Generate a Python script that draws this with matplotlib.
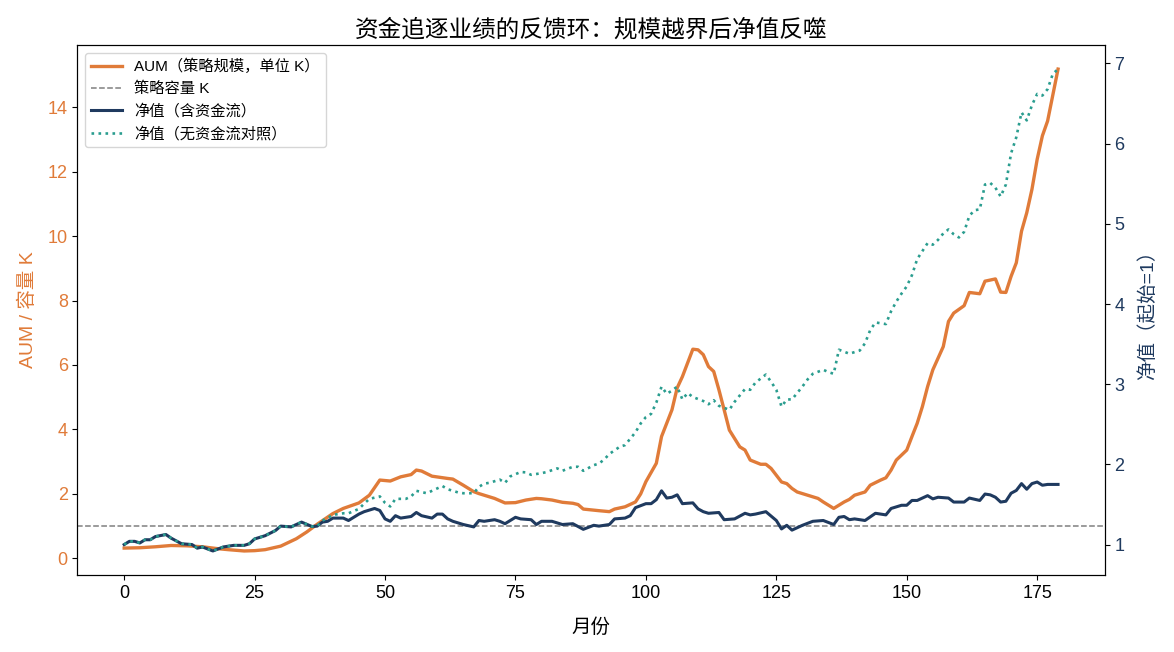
import matplotlib
matplotlib.use("Agg")
import matplotlib.pyplot as plt

plt.rcParams['font.family'] = ['Liberation Sans', 'Noto Sans CJK SC', 'DejaVu Sans']
plt.rcParams['axes.unicode_minus'] = False

# AUM in units of capacity K
aum_month = [0, 3, 6, 9, 12, 15, 18, 20, 23, 25, 27, 30, 33, 35, 37, 40, 42, 45, 47, 49,
             51, 53, 55, 56, 57, 59, 62, 63, 65, 67, 68, 70, 71, 73, 75, 77, 79, 80, 82, 84,
             86, 87, 88, 91, 93, 94, 96, 98, 99, 100, 102, 103, 105, 106, 107, 109, 110, 111,
             112, 113, 114, 115, 116, 118, 119, 120, 122, 123, 124, 126, 127, 128, 129, 131,
             133, 134, 136, 138, 139, 140, 142, 143, 145, 146, 147, 148, 150, 151, 152, 153,
             154, 155, 157, 158, 159, 161, 162, 164, 165, 167, 168, 169, 170, 171, 172, 173,
             174, 175, 176, 177, 179]
aum = [0.32, 0.33, 0.36, 0.40, 0.39, 0.36, 0.30, 0.27, 0.23, 0.24, 0.27, 0.38, 0.61, 0.82,
       1.06, 1.39, 1.55, 1.72, 1.96, 2.43, 2.40, 2.53, 2.60, 2.74, 2.71, 2.55, 2.48, 2.46,
       2.27, 2.07, 2.01, 1.91, 1.86, 1.72, 1.73, 1.81, 1.86, 1.85, 1.81, 1.74, 1.71, 1.67,
       1.53, 1.48, 1.45, 1.53, 1.60, 1.75, 2.00, 2.38, 2.95, 3.78, 4.61, 5.29, 5.64, 6.49,
       6.47, 6.32, 5.95, 5.80, 5.23, 4.61, 3.98, 3.46, 3.36, 3.05, 2.92, 2.92, 2.79, 2.37,
       2.32, 2.17, 2.06, 1.96, 1.86, 1.75, 1.55, 1.75, 1.83, 1.96, 2.06, 2.27, 2.43, 2.50,
       2.74, 3.05, 3.36, 3.78, 4.19, 4.71, 5.33, 5.85, 6.57, 7.35, 7.61, 7.84, 8.25, 8.21,
       8.60, 8.67, 8.26, 8.25, 8.75, 9.17, 10.15, 10.72, 11.45, 12.38, 13.11, 13.57, 15.18]
capacity_k = 1.0

# NAV with fund flows
nav_month = [0, 1, 2, 3, 4, 5, 6, 8, 9, 11, 13, 14, 15, 17, 19, 21, 23, 24, 25, 27, 29, 30,
             32, 34, 36, 37, 38, 39, 40, 42, 43, 45, 46, 48, 49, 50, 51, 52, 53, 55, 56, 57,
             59, 60, 61, 62, 63, 65, 67, 68, 69, 71, 72, 73, 75, 76, 78, 79, 80, 82, 84, 86,
             88, 90, 91, 93, 94, 96, 97, 98, 100, 101, 102, 103, 104, 105, 106, 107, 109, 110,
             111, 112, 114, 115, 117, 119, 120, 121, 123, 125, 126, 127, 128, 130, 132, 134,
             136, 137, 138, 139, 140, 142, 144, 146, 147, 149, 150, 151, 152, 154, 155, 156,
             158, 159, 161, 162, 164, 165, 166, 167, 168, 169, 170, 171, 172, 173, 174, 175,
             176, 177, 179]
nav = [1.00, 1.04, 1.04, 1.02, 1.06, 1.06, 1.10, 1.125, 1.08, 1.01, 1.00, 0.955, 0.97, 0.92,
       0.97, 0.99, 0.99, 1.01, 1.07, 1.11, 1.175, 1.23, 1.22, 1.28, 1.225, 1.23, 1.28, 1.29,
       1.33, 1.33, 1.30, 1.38, 1.41, 1.45, 1.425, 1.32, 1.29, 1.36, 1.33, 1.35, 1.40, 1.36,
       1.33, 1.38, 1.38, 1.32, 1.29, 1.25, 1.22, 1.30, 1.29, 1.31, 1.29, 1.26, 1.34, 1.32,
       1.31, 1.25, 1.29, 1.29, 1.25, 1.26, 1.19, 1.24, 1.23, 1.25, 1.32, 1.33, 1.36, 1.46,
       1.51, 1.51, 1.56, 1.67, 1.58, 1.59, 1.62, 1.51, 1.52, 1.445, 1.41, 1.39, 1.40, 1.31,
       1.32, 1.39, 1.37, 1.38, 1.41, 1.30, 1.195, 1.24, 1.18, 1.24, 1.29, 1.30, 1.25, 1.34,
       1.35, 1.31, 1.32, 1.30, 1.39, 1.37, 1.45, 1.49, 1.49, 1.55, 1.55, 1.61, 1.57, 1.59,
       1.58, 1.53, 1.53, 1.58, 1.55, 1.63, 1.62, 1.59, 1.53, 1.54, 1.64, 1.675, 1.76, 1.69,
       1.76, 1.78, 1.74, 1.75, 1.75]

# NAV without fund flows (control)
ctrl_month = [0, 1, 2, 3, 4, 5, 6, 8, 9, 11, 13, 14, 15, 17, 19, 21, 23, 24, 25, 27, 29, 30,
              32, 34, 36, 37, 38, 39, 40, 42, 43, 45, 46, 47, 49, 50, 51, 52, 54, 55, 56, 58,
              59, 61, 62, 64, 65, 67, 68, 69, 70, 72, 73, 74, 76, 77, 78, 80, 81, 83, 84, 86,
              87, 88, 90, 91, 92, 93, 95, 96, 98, 99, 100, 101, 102, 103, 104, 105, 106, 107,
              108, 109, 111, 112, 113, 114, 116, 117, 118, 119, 120, 121, 122, 123, 124, 125,
              126, 127, 128, 129, 130, 131, 132, 134, 135, 136, 137, 139, 140, 141, 142, 143,
              144, 146, 147, 148, 149, 150, 151, 152, 153, 154, 155, 156, 157, 158, 159, 160,
              161, 162, 163, 164, 165, 166, 167, 168, 169, 170, 171, 172, 173, 174, 175, 176,
              177, 178, 179]
ctrl = [1.00, 1.04, 1.04, 1.02, 1.06, 1.06, 1.10, 1.125, 1.08, 1.01, 1.00, 0.955, 0.97, 0.92,
        0.97, 0.99, 0.99, 1.01, 1.07, 1.11, 1.175, 1.23, 1.22, 1.28, 1.225, 1.23, 1.30, 1.33,
        1.37, 1.39, 1.39, 1.445, 1.51, 1.57, 1.60, 1.52, 1.475, 1.57, 1.57, 1.60, 1.67, 1.64,
        1.67, 1.73, 1.69, 1.65, 1.64, 1.64, 1.72, 1.76, 1.77, 1.81, 1.77, 1.85, 1.905, 1.90,
        1.87, 1.89, 1.905, 1.95, 1.92, 1.97, 1.97, 1.92, 1.99, 2.01, 2.06, 2.13, 2.22, 2.24,
        2.40, 2.51, 2.59, 2.63, 2.77, 2.97, 2.88, 2.92, 2.97, 2.81, 2.89, 2.84, 2.79, 2.75,
        2.80, 2.73, 2.68, 2.78, 2.86, 2.94, 2.93, 3.02, 3.07, 3.12, 3.03, 2.93, 2.72, 2.81,
        2.81, 2.89, 2.97, 3.06, 3.13, 3.18, 3.15, 3.13, 3.43, 3.38, 3.40, 3.42, 3.51, 3.675,
        3.77, 3.75, 3.91, 4.03, 4.13, 4.22, 4.36, 4.56, 4.66, 4.76, 4.74, 4.80, 4.88, 4.93,
        4.87, 4.83, 4.90, 5.10, 5.17, 5.18, 5.49, 5.51, 5.45, 5.34, 5.49, 5.88, 6.08, 6.39,
        6.29, 6.48, 6.62, 6.60, 6.68, 6.87, 6.93]

orange = "#E07B39"
navy = "#1F3A5F"
teal = "#2A9D8F"

fig, ax1 = plt.subplots(figsize=(11.74, 6.52), dpi=100)
fig.subplots_adjust(left=0.066, right=0.941, top=0.931, bottom=0.118)

l1, = ax1.plot(aum_month, aum, color=orange, lw=2.4, label="AUM（策略规模，单位 K）")
l2 = ax1.axhline(capacity_k, color="gray", ls="--", lw=1.1, label="策略容量 K")
ax1.set_ylabel("AUM / 容量 K", color=orange, fontsize=14, labelpad=8)
ax1.tick_params(axis="y", labelcolor=orange, labelsize=13)
ax1.tick_params(axis="x", labelsize=13)
ax1.set_xlabel("月份", fontsize=14, labelpad=12)

ax2 = ax1.twinx()
l3, = ax2.plot(nav_month, nav, color=navy, lw=2.2, label="净值（含资金流）")
l4, = ax2.plot(ctrl_month, ctrl, color=teal, lw=1.9, ls=":", label="净值（无资金流对照）")
ax2.set_ylabel("净值（起始=1）", color=navy, fontsize=14, labelpad=10)
ax2.tick_params(axis="y", labelcolor=navy, labelsize=13)

ax2.legend(handles=[l1, l2, l3, l4], loc="upper left", fontsize=11)
ax1.set_title("资金追逐业绩的反馈环：规模越界后净值反噬", fontsize=17)

fig.savefig("out.png", dpi=100)
